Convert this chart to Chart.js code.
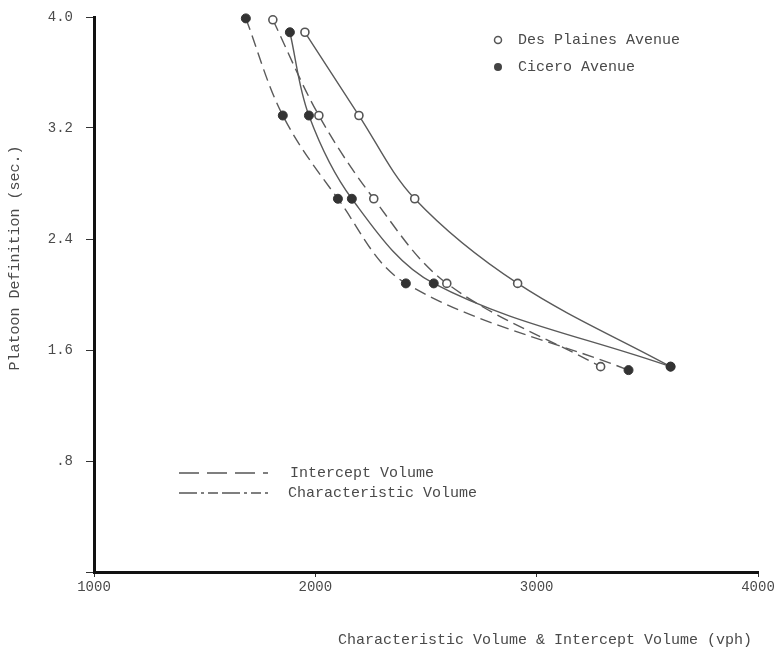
<!DOCTYPE html>
<html>
<head>
<meta charset="utf-8">
<script src="https://cdn.jsdelivr.net/npm/chart.js@4"></script>
<style>
  body { margin: 0; background: #fff; }
  #wrap { width: 780px; height: 653px; position: relative; }
</style>
</head>
<body>
<div id="wrap"><canvas id="chart"></canvas></div>
<script>
// values
const dpInterceptX = [1808, 2016, 2264, 2594, 3289];
const dpInterceptY = [3.98, 3.29, 2.69, 2.08, 1.48];
const dpCharX = [1953, 2197, 2449, 2914, 3605];
const dpCharY = [3.89, 3.29, 2.69, 2.08, 1.48];
const ciInterceptX = [1686, 1853, 2102, 2409, 3415];
const ciInterceptY = [3.99, 3.29, 2.69, 2.08, 1.455];
const ciCharX = [1885, 1971, 2165, 2535, 3605];
const ciCharY = [3.89, 3.29, 2.69, 2.08, 1.48];

const xTicks = [1000, 2000, 3000, 4000];
const yTickLabels = { 0.8: '.8', 1.6: '1.6', 2.4: '2.4', 3.2: '3.2', 4: '4.0' };

const FONT = '"Liberation Mono", "DejaVu Sans Mono", monospace';
const INK = '#4a4a4a';

function pts(xs, ys) {
    return xs.map((x, i) => ({ x: x, y: ys[i] }));
}

function series(label, xs, ys, filled, dashed) {
    return {
        label: label,
        data: pts(xs, ys),
        showLine: true,
        tension: 0.35,
        borderColor: '#5a5a5a',
        borderWidth: 1.4,
        borderDash: dashed ? [12, 6] : [],
        pointRadius: filled ? 4.5 : 4,
        pointBorderWidth: filled ? 1 : 1.6,
        pointBorderColor: filled ? '#333' : '#555',
        pointBackgroundColor: filled ? '#333' : '#fff',
        clip: false
    };
}

// titles and the two keys, drawn straight on the canvas
const annotations = {
    id: 'annotations',
    afterDraw(chart) {
        const ctx = chart.ctx;
        ctx.save();
        ctx.fillStyle = INK;
        ctx.font = '15px ' + FONT;
        ctx.textBaseline = 'middle';

        // marker key
        ctx.beginPath();
        ctx.arc(498, 40, 3.5, 0, Math.PI * 2);
        ctx.fillStyle = '#fff';
        ctx.fill();
        ctx.lineWidth = 1.5;
        ctx.strokeStyle = '#555';
        ctx.stroke();
        ctx.beginPath();
        ctx.arc(498, 67, 4, 0, Math.PI * 2);
        ctx.fillStyle = '#444';
        ctx.fill();
        ctx.fillStyle = INK;
        ctx.fillText('Des Plaines Avenue', 518, 40);
        ctx.fillText('Cicero Avenue', 518, 67);

        // line key
        ctx.strokeStyle = '#555';
        ctx.lineWidth = 1.3;
        ctx.setLineDash([20, 8]);
        ctx.beginPath();
        ctx.moveTo(179, 473);
        ctx.lineTo(268, 473);
        ctx.stroke();
        ctx.setLineDash([18, 4, 3, 4, 10, 4]);
        ctx.beginPath();
        ctx.moveTo(179, 493);
        ctx.lineTo(268, 493);
        ctx.stroke();
        ctx.setLineDash([]);
        ctx.fillText('Intercept Volume', 290, 473);
        ctx.fillText('Characteristic Volume', 288, 493);

        // axis titles
        ctx.textAlign = 'center';
        ctx.fillText('Characteristic Volume & Intercept Volume (vph)', 545, 640);
        ctx.translate(15, 258);
        ctx.rotate(-Math.PI / 2);
        ctx.fillText('Platoon Definition (sec.)', 0, 0);
        ctx.restore();
    }
};

const ctx = document.getElementById('chart');
new Chart(ctx, {
    type: 'scatter',
    data: {
        datasets: [
            series('Cicero Characteristic', ciCharX, ciCharY, true, false),
            series('Cicero Intercept', ciInterceptX, ciInterceptY, true, true),
            series('Des Plaines Characteristic', dpCharX, dpCharY, false, false),
            series('Des Plaines Intercept', dpInterceptX, dpInterceptY, false, true)
        ]
    },
    options: {
        responsive: true,
        maintainAspectRatio: false,
        animation: false,
        layout: { padding: { top: 17, right: 22, left: 0, bottom: 0 } },
        plugins: {
            legend: { display: false },
            tooltip: { enabled: false }
        },
        scales: {
            x: {
                type: 'linear',
                min: 1000,
                max: 4000,
                afterBuildTicks: (scale) => { scale.ticks = xTicks.map(v => ({ value: v })); },
                afterFit: (scale) => { scale.height = 81; },
                border: { color: '#111', width: 3 },
                grid: { drawOnChartArea: false, drawTicks: true, tickLength: 5, color: '#333' },
                ticks: {
                    color: INK,
                    padding: 2,
                    font: { family: FONT, size: 14 },
                    callback: (v) => String(v)
                }
            },
            y: {
                min: 0,
                max: 4,
                afterFit: (scale) => {
                    scale.width = 94;
                    scale.paddingTop = 0;
                    scale.paddingBottom = 0;
                },
                border: { color: '#111', width: 3 },
                grid: { drawOnChartArea: false, drawTicks: true, tickLength: 8, color: '#333' },
                ticks: {
                    stepSize: 0.8,
                    color: INK,
                    padding: 13,
                    font: { family: FONT, size: 14 },
                    callback: (v) => yTickLabels[Math.round(v * 10) / 10] || ''
                }
            }
        }
    },
    plugins: [annotations]
});
</script>
</body>
</html>
